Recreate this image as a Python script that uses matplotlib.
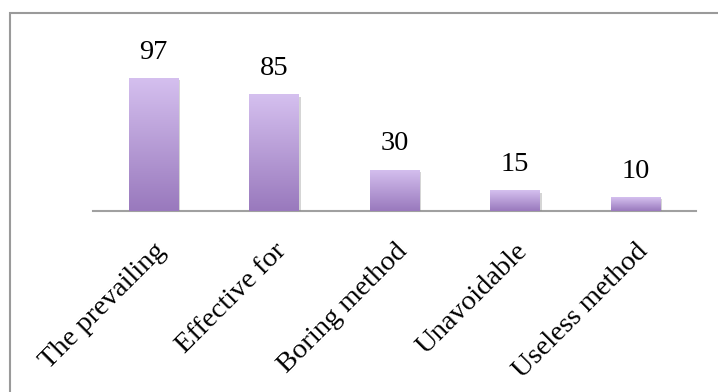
import numpy as np
import matplotlib
matplotlib.use("Agg")
import matplotlib.pyplot as plt
import matplotlib.patheffects as pe
from matplotlib.colors import LinearSegmentedColormap
from matplotlib.patches import Rectangle

# survey answers and counts
categories = ["The prevailing", "Effective for", "Boring method", "Unavoidable", "Useless method"]
counts = [97, 85, 30, 15, 10]

plt.rcParams["font.family"] = ["Liberation Serif", "DejaVu Serif"]

fig = plt.figure(figsize=(7.18, 3.92), dpi=100)
ax = fig.add_axes([0.1295, 0.4617, 0.8395, 0.3498])

# chart-area frame (only top and left edges fall inside the image)
fig.patches.append(Rectangle((10 / 718, -0.2), 1.2, 1.2 - 13 / 392,
                             transform=fig.transFigure, fill=False,
                             edgecolor="#9a9a9a", linewidth=1.5, zorder=0))

x = np.arange(len(categories))
bars = ax.bar(x, counts, width=0.41, color="#b59bd8", zorder=2,
              path_effects=[pe.SimplePatchShadow(offset=(1.5, -1.5), shadow_rgbFace="#888888", alpha=0.35),
                            pe.Normal()])

# vertical lavender gradient, light at the top of each bar
grad = LinearSegmentedColormap.from_list("lav", ["#9979bd", "#d5c0ef"])
ramp = np.linspace(0, 1, 256).reshape(-1, 1)
for b in bars:
    x0, y0, w, h = b.get_x(), b.get_y(), b.get_width(), b.get_height()
    im = ax.imshow(ramp, cmap=grad, aspect="auto", origin="lower",
                   extent=(x0, x0 + w, y0, y0 + h), zorder=3)
    im.set_clip_path(b)

for xi, v in zip(x, counts):
    ax.annotate(str(v), (xi, v), xytext=(0, 14), textcoords="offset points",
                ha="center", va="baseline", fontsize=20.5, color="black")

ax.set_xlim(-0.5, len(categories) - 0.5)
ax.set_ylim(0, 100)
for side in ["top", "right", "left"]:
    ax.spines[side].set_visible(False)
ax.spines["bottom"].set_color("#a0a0a0")
ax.spines["bottom"].set_linewidth(1.5)
ax.spines["bottom"].set_zorder(1)
ax.set_yticks([])
ax.set_xticks(x)
ax.set_xticklabels(categories, rotation=45, ha="right", rotation_mode="anchor",
                   fontsize=20.5)
ax.tick_params(axis="x", length=0, pad=20)
ax.patch.set_visible(False)

fig.savefig("out.png", dpi=100, facecolor="white")
